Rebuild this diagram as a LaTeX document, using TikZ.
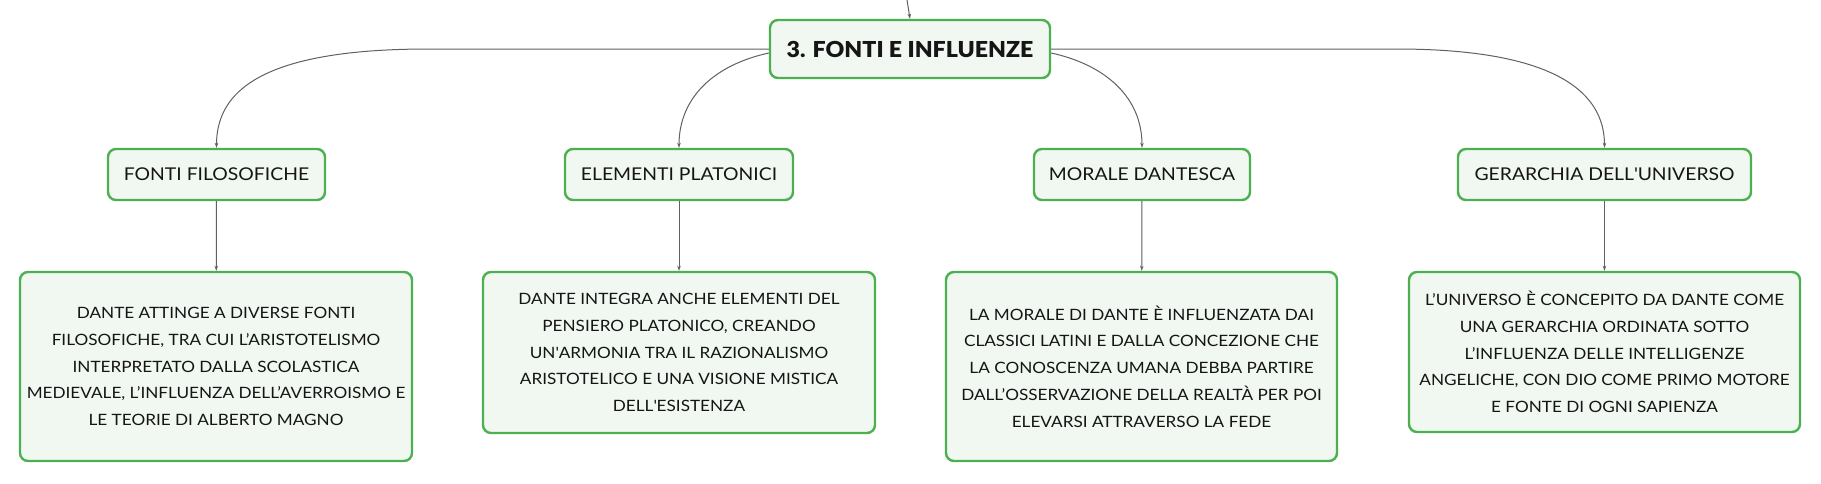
\documentclass[tikz,border=0pt]{standalone}
\usepackage{fontspec}
\setmainfont{Lato}[FakeStretch=1.1]
\newfontfamily\titlefont{Lato Black}[FakeStretch=1.05]
\usetikzlibrary{arrows.meta}
\definecolor{boxgreen}{HTML}{4CAF50}
\definecolor{boxfill}{HTML}{F1F8F2}
\definecolor{linkgray}{HTML}{606060}
\definecolor{inkc}{HTML}{151515}
\tikzset{
  box/.style={draw=boxgreen, line width=2.4pt, fill=boxfill, rounded corners=8pt,
    inner sep=0pt, text=inkc, align=center},
  mainbox/.style={box, font=\fontsize{22}{26}\titlefont},
  subbox/.style={box, font=\fontsize{17.6}{20}\selectfont},
  descbox/.style={box, font=\fontsize{15.6}{26.7}\selectfont},
  link/.style={draw=linkgray, line width=1pt, -{Stealth[length=5pt,width=3.5pt]}}
}
\begin{document}
\begin{tikzpicture}[x=1pt,y=-1pt]
\useasboundingbox (0,0) rectangle (1821,483);
\node[mainbox, minimum width=280pt, minimum height=58pt] (main) at (910,49) {3. FONTI E INFLUENZE};

\node[subbox, minimum width=217pt, minimum height=51pt] (s1) at (216.5,174.5) {FONTI FILOSOFICHE};
\node[subbox, minimum width=228pt, minimum height=51pt] (s2) at (679,174.5) {ELEMENTI PLATONICI};
\node[subbox, minimum width=216pt, minimum height=51pt] (s3) at (1142,174.5) {MORALE DANTESCA};
\node[subbox, minimum width=293pt, minimum height=51pt] (s4) at (1604.5,174.5) {GERARCHIA DELL\textquotesingle UNIVERSO};

\node[descbox, minimum width=392pt, minimum height=189pt] (d1) at (216,366.5)
  {DANTE ATTINGE A DIVERSE FONTI\\FILOSOFICHE, TRA CUI L’ARISTOTELISMO\\INTERPRETATO DALLA SCOLASTICA\\MEDIEVALE, L’INFLUENZA DELL’AVERROISMO E\\LE TEORIE DI ALBERTO MAGNO};
\node[descbox, minimum width=392pt, minimum height=161pt] (d2) at (679,352.5)
  {DANTE INTEGRA ANCHE ELEMENTI DEL\\PENSIERO PLATONICO, CREANDO\\UN\textquotesingle ARMONIA TRA IL RAZIONALISMO\\ARISTOTELICO E UNA VISIONE MISTICA\\DELL\textquotesingle ESISTENZA};
\node[descbox, minimum width=391pt, minimum height=189pt] (d3) at (1141.5,366.5)
  {LA MORALE DI DANTE È INFLUENZATA DAI\\CLASSICI LATINI E DALLA CONCEZIONE CHE\\LA CONOSCENZA UMANA DEBBA PARTIRE\\DALL’OSSERVAZIONE DELLA REALTÀ PER POI\\ELEVARSI ATTRAVERSO LA FEDE};
\node[descbox, minimum width=391pt, minimum height=160pt] (d4) at (1604.5,352)
  {L’UNIVERSO È CONCEPITO DA DANTE COME\\UNA GERARCHIA ORDINATA SOTTO\\L’INFLUENZA DELLE INTELLIGENZE\\ANGELICHE, CON DIO COME PRIMO MOTORE\\E FONTE DI OGNI SAPIENZA};

\coordinate (top) at (907,0);
\draw[link] (top) -- (main.north);

\draw[link] (main.west) -- ++(-340,0) .. controls ++(-170,0) and ([yshift=55pt]s1.north) .. (s1.north);
\draw[link] ([yshift=-4pt]main.west) .. controls ++(-55,12) and ([yshift=50pt]s2.north) .. (s2.north);
\draw[link] ([yshift=-4pt]main.east) .. controls ++(55,12) and ([yshift=50pt]s3.north) .. (s3.north);
\draw[link] (main.east) -- ++(345,0) .. controls ++(160,0) and ([yshift=55pt]s4.north) .. (s4.north);

\draw[link] (s1) -- (d1);
\draw[link] (s2) -- (d2);
\draw[link] (s3) -- (d3);
\draw[link] (s4) -- (d4);
\end{tikzpicture}
\end{document}
